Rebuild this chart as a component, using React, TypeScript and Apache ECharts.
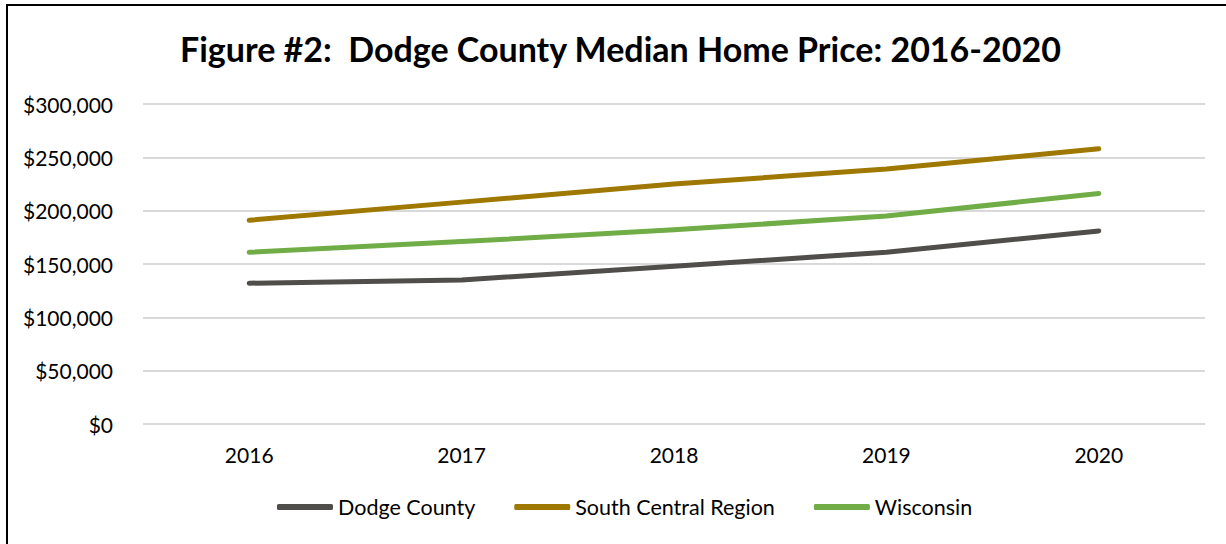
import React, { useEffect, useRef } from "react";
import * as echarts from "echarts";

const years = ["2016", "2017", "2018", "2019", "2020"];
const dodgeCounty = [132000, 135000, 148000, 161000, 181000];
const southCentral = [191000, 208000, 225000, 239000, 258000];
const wisconsin = [161000, 171000, 182000, 195000, 216000];

const seriesNames = ["Dodge County", "South Central Region", "Wisconsin"];
const seriesColors = ["#504e4b", "#9e7800", "#70ad47"];
const titleText = "Figure #2:  Dodge County Median Home Price: 2016-2020";

const FONT = "Lato, 'Noto Sans', sans-serif";

export default function App() {
  const ref = useRef<HTMLDivElement>(null);
  useEffect(() => {
    if (!ref.current) return;
    const chart = echarts.init(ref.current, undefined, { renderer: "svg" });
    const data = [dodgeCounty, southCentral, wisconsin];
    chart.setOption({
      animation: false,
      backgroundColor: "#ffffff",
      title: {
        text: titleText,
        left: 175,
        top: 26,
        textStyle: { fontFamily: FONT, fontWeight: "bold", fontSize: 34, color: "#000000" },
      },
      graphic: [
        {
          type: "rect",
          shape: { x: 7, y: 5, width: 1300, height: 600 },
          style: { fill: "none", stroke: "#000000", lineWidth: 2 },
          silent: true,
        },
      ],
      grid: { left: 143, right: 21, top: 104, bottom: 120, containLabel: false },
      legend: {
        bottom: 21,
        left: 272,
        itemWidth: 56,
        itemHeight: 6,
        itemGap: 39,
        icon: "roundRect",
        textStyle: { fontFamily: FONT, fontSize: 21.5, color: "#000000" },
        data: seriesNames,
      },
      xAxis: {
        type: "category",
        data: years,
        boundaryGap: true,
        axisLine: { show: false },
        axisTick: { show: false },
        axisLabel: { fontFamily: FONT, fontSize: 21, color: "#000000", margin: 20 },
      },
      yAxis: {
        type: "value",
        min: 0,
        max: 300000,
        interval: 50000,
        axisLine: { show: false },
        axisTick: { show: false },
        splitLine: { lineStyle: { color: "#d9d9d9", width: 2 } },
        axisLabel: {
          fontFamily: FONT,
          fontSize: 21,
          color: "#000000",
          margin: 30,
          formatter: (v: number) => "$" + v.toLocaleString("en-US"),
        },
      },
      series: seriesNames.map((name, i) => ({
        name,
        type: "line",
        data: data[i],
        symbol: "none",
        lineStyle: { width: 5, color: seriesColors[i], cap: "round", join: "round" },
        itemStyle: { color: seriesColors[i] },
      })),
    });
    return () => chart.dispose();
  }, []);
  return (
    <div
      ref={ref}
      style={{ position: "fixed", left: 0, top: 0, width: 1226, height: 544 }}
    />
  );
}
